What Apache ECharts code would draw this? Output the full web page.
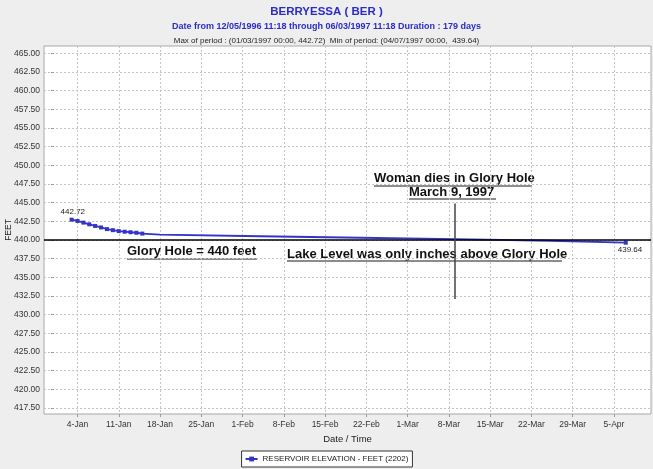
<!DOCTYPE html>
<html>
<head>
<meta charset="utf-8">
<script src="https://cdn.jsdelivr.net/npm/echarts@6/dist/echarts.min.js"></script>
<style>
  html, body { margin: 0; padding: 0; background: #eeeeee; }
  #chart { width: 653px; height: 469px; }
</style>
</head>
<body>
<div id="chart"></div>
<script>
// data (x = day of year 1997)
var days = [3, 4, 5, 6, 7, 8, 9, 10, 11, 12, 13, 14, 15, 18, 35, 52, 68, 84, 97];
var levels = [442.72, 442.55, 442.33, 442.10, 441.88, 441.68, 441.46, 441.32, 441.19, 441.11, 441.04, 440.97, 440.86,
              440.72, 440.50, 440.30, 440.13, 439.90, 439.64];
var markedCount = 13;          // daily points drawn with a marker

var xTickDays = [4, 11, 18, 25, 32, 39, 46, 53, 60, 67, 74, 81, 88, 95];
var xTickLabels = ['4-Jan', '11-Jan', '18-Jan', '25-Jan', '1-Feb', '8-Feb', '15-Feb', '22-Feb',
                   '1-Mar', '8-Mar', '15-Mar', '22-Mar', '29-Mar', '5-Apr'];
var yTicks = [417.5, 420, 422.5, 425, 427.5, 430, 432.5, 435, 437.5, 440, 442.5, 445, 447.5,
              450, 452.5, 455, 457.5, 460, 462.5, 465];

var gloryHole = 440;
var deathDay = 68;              // March 9
var deathLineRange = [432.1, 444.9];

var face = "'Liberation Sans', Arial, sans-serif";
var bold = "bold 13px 'Liberation Sans', Arial, sans-serif";

//build series items
var seriesData = [];
for (var i = 0; i < days.length; i++) {
    var item = { value: [days[i], levels[i]] };
    if (i >= markedCount && i != days.length - 1) item.symbol = 'none';
    if (i == 0) item.label = { show: true, position: [-9, -10], formatter: levels[i].toFixed(2) };
    if (i == days.length - 1) item.label = { show: true, position: [-6, 5], formatter: levels[i].toFixed(2) };
    seriesData.push(item);
}

var option = {
    backgroundColor: '#eeeeee',
    animation: false,
    title: [
        {
            text: 'BERRYESSA ( BER )',
            left: 'center', top: 1,
            textStyle: { color: '#2b2bc8', fontSize: 11.5, fontWeight: 'bold', fontFamily: face }
        },
        {
            text: 'Date from 12/05/1996 11:18 through 06/03/1997 11:18 Duration : 179 days',
            left: 'center', top: 17,
            textStyle: { color: '#2b2bc8', fontSize: 9, fontWeight: 'bold', fontFamily: face }
        },
        {
            text: 'Max of period : (01/03/1997 00:00, 442.72)  Min of period: (04/07/1997 00:00,  439.64)',
            left: 'center', top: 32,
            textStyle: { color: '#222', fontSize: 8, fontWeight: 'normal', fontFamily: face }
        }
    ],
    legend: {
        bottom: 2,
        left: 'center',
        data: ['RESERVOIR ELEVATION - FEET (2202)'],
        backgroundColor: '#fff',
        borderColor: '#333',
        borderWidth: 1,
        borderRadius: 0,
        padding: [4, 4, 4, 3],
        itemWidth: 12,
        itemHeight: 6,
        itemGap: 3,
        textStyle: { fontSize: 8, color: '#222', fontFamily: face }
    },
    grid: {
        left: 44, right: 2, top: 46, bottom: 55,
        outerBoundsMode: 'none',
        containLabel: false,
        show: true,
        backgroundColor: '#fff',
        borderColor: '#a8a8a8',
        borderWidth: 1
    },
    xAxis: {
        type: 'value',
        min: -1.68,
        max: 101.28,
        name: 'Date / Time',
        nameLocation: 'middle',
        nameGap: 20,
        nameMoveOverlap: false,
        nameTextStyle: { fontSize: 9.5, color: '#222', fontFamily: face },
        axisLine: { show: false },
        axisTick: { show: true, customValues: xTickDays, length: 3, lineStyle: { color: '#999' } },
        axisLabel: {
            customValues: xTickDays,
            fontSize: 8.5, color: '#333', fontFamily: face, margin: 6,
            formatter: function (v) { return xTickLabels[xTickDays.indexOf(v)]; }
        },
        splitLine: { show: true, lineStyle: { color: '#c4c4c4', type: [2, 2] } }
    },
    yAxis: {
        type: 'value',
        min: 416.7,
        max: 465.98,
        name: 'FEET',
        nameLocation: 'middle',
        nameGap: 31,
        nameMoveOverlap: false,
        nameRotate: 90,
        nameTextStyle: { fontSize: 8.5, color: '#222', fontFamily: face },
        axisLine: { show: false },
        axisTick: { show: true, customValues: yTicks, length: 3, lineStyle: { color: '#999' } },
        axisLabel: {
            customValues: yTicks,
            fontSize: 8.5, color: '#333', fontFamily: face, margin: 4,
            formatter: function (v) { return v.toFixed(2); }
        },
        splitLine: { show: true, lineStyle: { color: '#c4c4c4', type: [2, 2] } }
    },
    series: [
        {
            name: 'RESERVOIR ELEVATION - FEET (2202)',
            type: 'line',
            data: seriesData,
            color: '#3434c8',
            symbol: 'rect',
            symbolSize: 4,
            showAllSymbol: true,
            clip: false,
            lineStyle: { width: 1.8, color: '#3434c8' },
            itemStyle: { color: '#3434c8' },
            label: { fontSize: 8, color: '#222', fontFamily: face },
            markLine: {
                silent: true,
                symbol: 'none',
                label: { show: false },
                data: [
                    { yAxis: gloryHole, lineStyle: { color: '#000', width: 1.5, type: 'solid' } },
                    [
                        { coord: [deathDay, deathLineRange[1]], lineStyle: { color: '#444', width: 1.5, type: 'solid' } },
                        { coord: [deathDay, deathLineRange[0]] }
                    ]
                ]
            }
        }
    ],
    graphic: [
        { type: 'text', left: 127, top: 245, style: { text: 'Glory Hole = 440 feet', font: bold, fill: '#111' } },
        { type: 'line', shape: { x1: 127, y1: 259, x2: 257, y2: 259 }, style: { stroke: '#666', lineWidth: 1.5 } },
        { type: 'text', left: 287, top: 248, style: { text: 'Lake Level was only inches above Glory Hole', font: bold, fill: '#111' } },
        { type: 'line', shape: { x1: 287, y1: 261, x2: 562, y2: 261 }, style: { stroke: '#666', lineWidth: 1.5 } },
        { type: 'text', left: 374, top: 172, style: { text: 'Woman dies in Glory Hole', font: bold, fill: '#111' } },
        { type: 'line', shape: { x1: 374, y1: 186, x2: 532, y2: 186 }, style: { stroke: '#666', lineWidth: 1.5 } },
        { type: 'text', left: 409, top: 186, style: { text: 'March 9, 1997', font: bold, fill: '#111' } },
        { type: 'line', shape: { x1: 409, y1: 199, x2: 496, y2: 199 }, style: { stroke: '#666', lineWidth: 1.5 } }
    ]
};

var myChart = echarts.init(document.getElementById('chart'));
myChart.setOption(option);
</script>
</body>
</html>
